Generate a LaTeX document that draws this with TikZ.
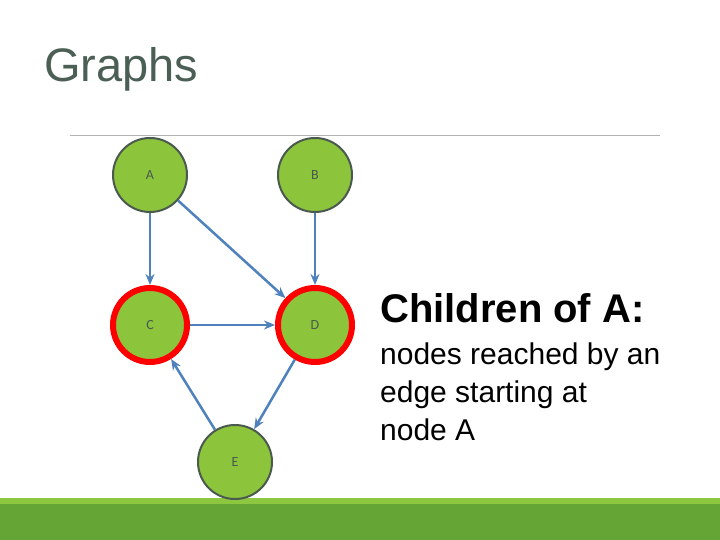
\documentclass[tikz,border=0pt]{standalone}
\usepackage{fontspec}
\setmainfont{Liberation Sans}
\newfontfamily\calib{Carlito}
\usetikzlibrary{arrows.meta}
\definecolor{ngreen}{HTML}{8CC43C}
\definecolor{nborder}{HTML}{4A5A4E}
\definecolor{eblue}{HTML}{4F81BD}
\definecolor{title}{HTML}{4B5F55}
\definecolor{barlight}{HTML}{8DC63F}
\definecolor{bardark}{HTML}{64A535}
\tikzset{
 vert/.style={circle,fill=ngreen,draw=nborder,line width=2pt,minimum size=74pt,inner sep=0pt,font=\calib\fontsize{14}{16}\selectfont,text=nborder},
 redv/.style={vert,draw=red,line width=6pt,minimum size=74pt},
 edge/.style={draw=eblue,line width=2.5pt,-{Stealth[length=11pt,width=9pt]}},
}
\begin{document}
\begin{tikzpicture}[x=1pt,y=-1pt]
\useasboundingbox (0,0) rectangle (720,540);
\fill[white] (0,0) rectangle (720,540);
\node[anchor=base west,text=title,font=\fontsize{47}{50}\selectfont,inner sep=0pt] (t) at (44,82) {Graphs};
\draw[gray!60,line width=1pt] (70,136) -- (660,136);
\fill[barlight] (0,498) rectangle (720,504);
\fill[bardark] (0,504) rectangle (720,540);
\node[vert] (A) at (150,175) {A};
\node[vert] (B) at (315,175) {B};
\node[redv] (C) at (150,325) {C};
\node[redv] (D) at (315,325) {D};
\node[vert] (E) at (235,462) {E};
\draw[edge] (A) -- (C);
\draw[edge] (B) -- (D);
\draw[edge] (A) -- (D);
\draw[edge] (C) -- (D);
\draw[edge] (D) -- (E);
\draw[edge] (E) -- (C);
\node[anchor=base west,font=\bfseries\fontsize{40}{44}\selectfont,inner sep=0pt] (h) at (380,322) {Children of A:};
\node[anchor=base west,font=\fontsize{30}{38}\selectfont,inner sep=0pt,align=left] (b) at (380,364) {nodes reached by an};
\node[anchor=base west,font=\fontsize{30}{38}\selectfont,inner sep=0pt] (b2) at (380,402) {edge starting at};
\node[anchor=base west,font=\fontsize{30}{38}\selectfont,inner sep=0pt] (b3) at (380,440) {node A};
\end{tikzpicture}
\end{document}
